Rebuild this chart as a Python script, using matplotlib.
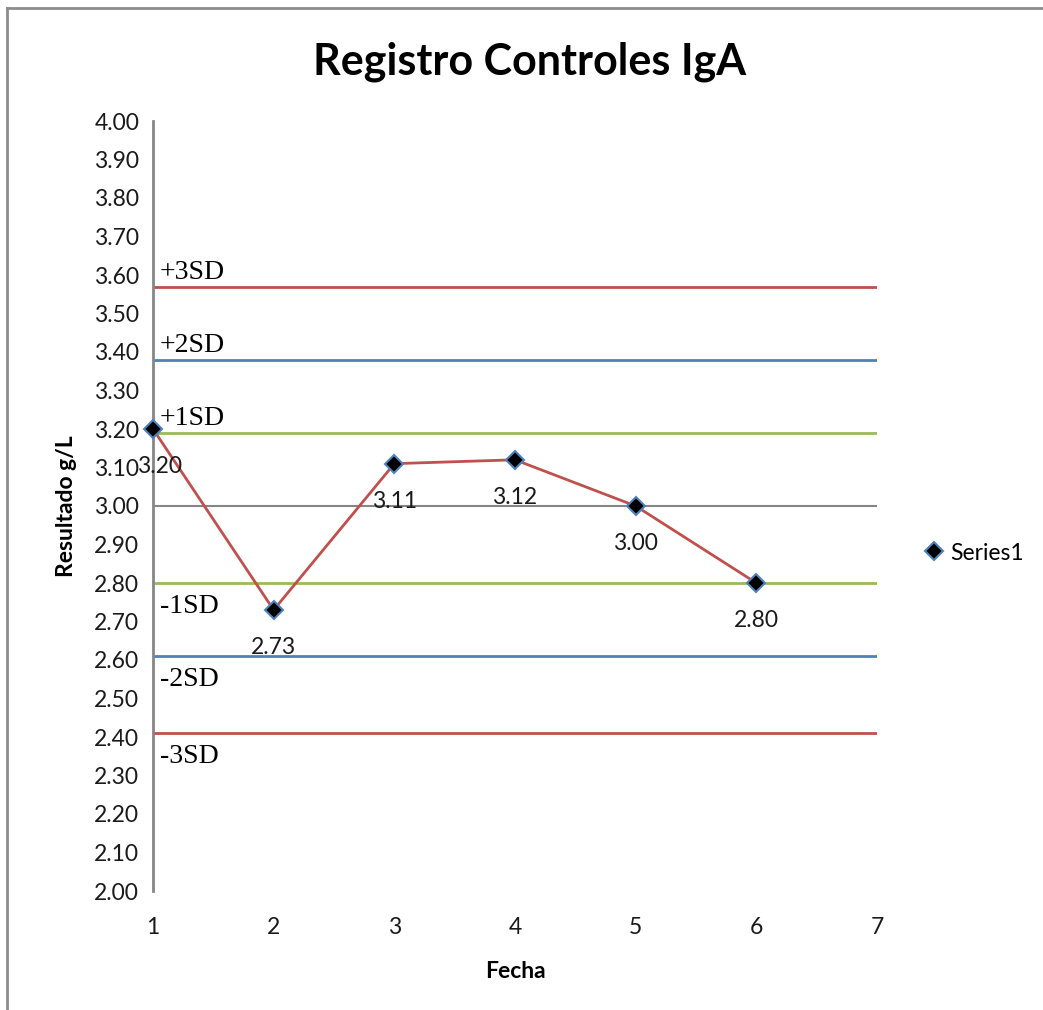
import matplotlib.pyplot as plt
from matplotlib.lines import Line2D

plt.rcParams['font.family'] = ['Lato', 'DejaVu Sans']

# Control results
fecha = [1, 2, 3, 4, 5, 6]
resultado = [3.20, 2.73, 3.11, 3.12, 3.00, 2.80]

# Control limits (mean and +/- 1, 2, 3 SD)
media = 3.00
limites = [3.57, 3.38, 3.19, 2.80, 2.61, 2.41]
etiquetas = ['+3SD', '+2SD', '+1SD', '-1SD', '-2SD', '-3SD']
colores = ['#C0504D', '#4F81BD', '#9BBB59', '#9BBB59', '#4F81BD', '#C0504D']

yticks = [2.0 + 0.1 * i for i in range(21)]
xticks = [1, 2, 3, 4, 5, 6, 7]

fig = plt.figure(figsize=(10.43, 10.10), dpi=100)
ax = fig.add_axes([153 / 1043, 119 / 1010, 724 / 1043, 770 / 1010])

# limit lines and mean
for y, lab, c in zip(limites, etiquetas, colores):
    ax.axhline(y, color=c, lw=2, zorder=1)
    if lab.startswith('+'):
        ax.annotate(lab, (1, y), xytext=(5, 1), textcoords='offset points',
                    ha='left', va='bottom', fontsize=20, family='Liberation Serif')
    else:
        ax.annotate(lab, (1, y), xytext=(5, -8), textcoords='offset points',
                    ha='left', va='top', fontsize=20, family='Liberation Serif')
ax.axhline(media, color='#868686', lw=1.5, zorder=1)

ax.plot(fecha, resultado, color='#C0504D', lw=2, marker='D', markersize=9,
        markerfacecolor='black', markeredgecolor='#4F81BD', markeredgewidth=1.5,
        zorder=3, clip_on=False)

# value labels under each point (first one nudged inside the plot area)
for x, y in zip(fecha, resultado):
    dx = 5 if x == fecha[0] else 0
    ax.annotate(f'{y:.2f}', (x, y), xytext=(dx, -27), textcoords='offset points',
                ha='center', va='center', fontsize=16.5, color='#1a1a1a', zorder=4)

ax.set_xlim(1, 7)
ax.set_ylim(2.0, 4.0)
ax.set_xticks(xticks)
ax.set_yticks(yticks)
ax.set_yticklabels([f'{v:.2f}' for v in yticks])
ax.tick_params(axis='both', length=0, labelsize=16.5, colors='#1a1a1a')
ax.tick_params(axis='y', pad=10)
ax.tick_params(axis='x', pad=19)

for s in ['top', 'right', 'bottom']:
    ax.spines[s].set_visible(False)
ax.spines['left'].set_color('#868686')
ax.spines['left'].set_linewidth(2)

ax.set_xlabel('Fecha', fontsize=16.5, fontweight='bold', labelpad=16)
ax.set_ylabel('Resultado g/L', fontsize=16.5, fontweight='bold', labelpad=12)

fig.text(530 / 1043, 1 - 62 / 1010, 'Registro Controles IgA', ha='center', va='center',
         fontsize=31, fontweight='bold')

handle = Line2D([], [], linestyle='none', marker='D', markersize=9,
                markerfacecolor='black', markeredgecolor='#4F81BD', markeredgewidth=1.5)
fig.legend([handle], ['Series1'], loc='center left', frameon=False,
           bbox_to_anchor=(904 / 1043, 1 - 553 / 1010), fontsize=16.5,
           handlelength=0.8, handletextpad=0.3)

# chart frame
fig.add_artist(Line2D([7 / 1043, 1], [1 - 8 / 1010, 1 - 8 / 1010], color='#8c8c8c', lw=2))
fig.add_artist(Line2D([7 / 1043, 7 / 1043], [0, 1 - 8 / 1010], color='#8c8c8c', lw=2))

fig.savefig('out.png', dpi=100)
